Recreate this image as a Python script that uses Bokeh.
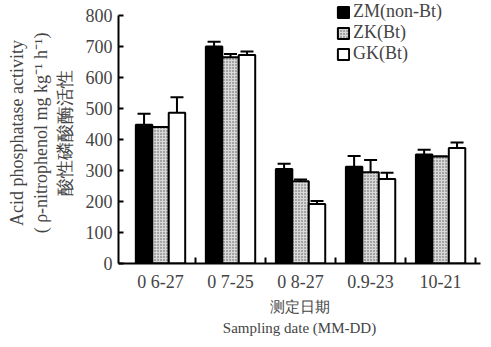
from bokeh.plotting import figure
from bokeh.models import (ColumnDataSource, Range1d, FixedTicker, Whisker, TeeHead,
                          Legend, LegendItem, Title)
from bokeh.transform import dodge
from bokeh.embed import file_html
from bokeh.resources import INLINE

dates = ["0 6-27", "0 7-25", "0 8-27", "0.9-23", "10-21"]
series = ["ZM(non-Bt)", "ZK(Bt)", "GK(Bt)"]
zm = [448, 700, 305, 312, 352]
zm_err = [35, 15, 17, 35, 15]
zk = [440, 665, 265, 294, 345]
zk_err = [0, 11, 6, 40, 0]
gk = [486, 673, 192, 273, 373]
gk_err = [50, 11, 10, 20, 17]
y_ticks = [0, 100, 200, 300, 400, 500, 600, 700, 800]

SERIF = "Liberation Serif"

p = figure(width=483, height=339, output_backend="svg", toolbar_location=None,
           x_range=Range1d(-0.6, 4.57), y_range=Range1d(0, 842),
           min_border_left=118, min_border_right=3, min_border_top=2, min_border_bottom=76)
p.outline_line_color = None
p.xgrid.visible = False
p.ygrid.visible = False
p.background_fill_color = "white"

xs = list(range(len(dates)))
data = dict(x=xs, zm=zm, zk=zk, gk=gk,
            zm_up=[v + e for v, e in zip(zm, zm_err)],
            zk_up=[v + e for v, e in zip(zk, zk_err)],
            gk_up=[v + e for v, e in zip(gk, gk_err)])
src = ColumnDataSource(data)

W = 0.235
offs = [-W, 0.0, W]
styles = [
    dict(fill_color="black"),
    dict(fill_color="#d9d9d9", hatch_pattern="dot", hatch_color="#555555",
         hatch_scale=3, hatch_weight=1),
    dict(fill_color="white"),
]
cols = ["zm", "zk", "gk"]
renderers = []
for col, off, st in zip(cols, offs, styles):
    r = p.vbar(x=dodge("x", off), top=col, width=W, bottom=0, source=src,
               line_color="black", line_width=2, **st)
    renderers.append(r)
    wk = Whisker(source=src, base=dodge("x", off), upper=col + "_up", lower=col,
                 upper_head=TeeHead(size=13, line_width=2, line_color="black"),
                 lower_head=None, line_width=2, line_color="black")
    p.add_layout(wk)

legend = Legend(items=[LegendItem(label=s, renderers=[r]) for s, r in zip(series, renderers)],
                location=(218, 199), border_line_color=None, background_fill_alpha=0,
                padding=0, margin=0, spacing=0, glyph_width=14, glyph_height=14,
                label_text_font=SERIF, label_text_font_size="18px", label_standoff=3,
                label_height=17)
p.add_layout(legend, "center")

# y axis
ya = p.yaxis[0]
ya.ticker = FixedTicker(ticks=y_ticks)
ya.bounds = (0, 800)
ya.minor_tick_line_color = None
ya.major_tick_in = 5
ya.major_tick_out = 0
ya.axis_line_width = 2
ya.major_tick_line_width = 2
ya.major_label_text_font = SERIF
ya.major_label_text_font_size = "18px"
ya.major_label_standoff = 6
ya.axis_label = "Acid phosphatase activity\n( \u03c1-nitrophenol mg kg\u207b\u00b9 h\u207b\u00b9)\n酸性磷酸酶活性"
ya.axis_label_text_font = SERIF
ya.axis_label_text_font_size = "18px"
ya.axis_label_text_font_style = "normal"
ya.axis_label_standoff = 8

# x axis
xa = p.xaxis[0]
xa.ticker = FixedTicker(ticks=xs, minor_ticks=[x + 0.5 for x in xs])
xa.major_label_overrides = {i: d for i, d in enumerate(dates)}
xa.major_tick_in = 0
xa.major_tick_out = 0
xa.minor_tick_in = 6
xa.minor_tick_out = 0
xa.minor_tick_line_width = 2
xa.axis_line_width = 2
xa.major_label_text_font = SERIF
xa.major_label_text_font_size = "18px"
xa.major_label_standoff = 8
xa.axis_label = "测定日期"
xa.axis_label_text_font = SERIF
xa.axis_label_text_font_size = "15px"
xa.axis_label_text_font_style = "normal"
xa.axis_label_standoff = 4

p.add_layout(Title(text="Sampling date (MM-DD)", align="center", text_font=SERIF,
                   text_font_size="15px", text_font_style="normal", standoff=0), "below")

open("out.html", "w").write(file_html(p, INLINE))
